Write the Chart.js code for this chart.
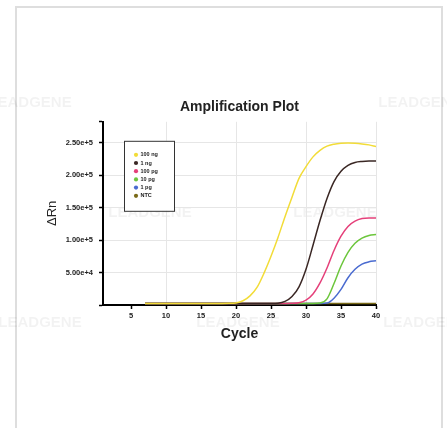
<!DOCTYPE html>
<html>
<head>
<meta charset="utf-8">
<script src="https://cdn.jsdelivr.net/npm/chart.js@4/dist/chart.umd.min.js"></script>
<style>
  html, body { margin: 0; padding: 0; background: #fff; }
  #frame { position: absolute; left: 15px; top: 6px; width: 428px; height: 430px; border: 2px solid #dedede; box-sizing: border-box; }
  #plot { position: absolute; left: 0; top: 0; }
</style>
</head>
<body>
<div id="frame"></div>
<canvas id="plot" width="447" height="428"></canvas>
<script>
// cycles 7..40 (curves start at cycle 7)
const cycles = [7, 8, 9, 10, 11, 12, 13, 14, 15, 16, 17, 18, 19, 20, 21, 22, 23, 24, 25, 26, 27, 28, 29, 30, 31, 32, 33, 34, 35, 36, 37, 38, 39, 40];

const ng100 = [2500, 2500, 2500, 2500, 2500, 2500, 2500, 2500, 2500, 2500, 2500, 2500, 2600, 3200, 6500, 14000, 27000, 49000, 75000, 104000, 136000, 166000, 195000, 213000, 228000, 238000, 244500, 247500, 249000, 249500, 249000, 248000, 246500, 244000];
const ng1 = [2500, 2500, 2500, 2500, 2500, 2500, 2500, 2500, 2500, 2500, 2500, 2500, 2500, 2500, 2500, 2500, 2500, 2500, 2500, 2800, 5500, 13000, 28000, 55000, 92000, 130000, 164000, 190000, 206000, 215000, 219500, 221000, 221500, 221500];
const pg100 = [2500, 2500, 2500, 2500, 2500, 2500, 2500, 2500, 2500, 2500, 2500, 2500, 2500, 2500, 2500, 2500, 2500, 2500, 2500, 2500, 2500, 2600, 3500, 7500, 17000, 34000, 57000, 84000, 106000, 121000, 129000, 133000, 134000, 134000];
const pg10 = [2500, 2500, 2500, 2500, 2500, 2500, 2500, 2500, 2500, 2500, 2500, 2500, 2500, 2500, 2500, 2500, 2500, 2500, 2500, 2500, 2500, 2500, 2500, 2500, 2500, 3000, 9500, 33000, 60000, 81000, 95000, 103000, 107000, 108500];
const pg1 = [2500, 2500, 2500, 2500, 2500, 2500, 2500, 2500, 2500, 2500, 2500, 2500, 2500, 2500, 2500, 2500, 2500, 2500, 2500, 2500, 2500, 2500, 2500, 2500, 2500, 2500, 3000, 10500, 24000, 42000, 55000, 63000, 66500, 68000];
const ntc = [2500, 2500, 2500, 2500, 2500, 2500, 2500, 2500, 2500, 2500, 2500, 2500, 2500, 2500, 2500, 2500, 2500, 2500, 2500, 2500, 2500, 2500, 2500, 2500, 2500, 2500, 2500, 2500, 2500, 2500, 2500, 2500, 2500, 2500];

const seriesNames = ['100 ng', '1 ng', '100 pg', '10 pg', '1 pg', 'NTC'];
const seriesColors = ['#f2dc38', '#3a2724', '#e5407a', '#6cc63c', '#4a6bd0', '#7a6a18'];
const yTicks = [50000, 100000, 150000, 200000, 250000];

const FONT = "'Liberation Sans', Arial, sans-serif";

const toPoints = vals => vals.map((v, i) => ({ x: cycles[i], y: v }));

const legendBox = {
  id: 'legendBox',
  afterDraw(chart) {
    const { ctx, chartArea } = chart;
    const x = chartArea.left + 21, y = chartArea.top + 19;
    ctx.save();
    ctx.fillStyle = '#fff';
    ctx.fillRect(x, y, 50, 70);
    ctx.strokeStyle = '#333';
    ctx.lineWidth = 1;
    ctx.strokeRect(x + 0.5, y + 0.5, 50, 70);
    ctx.font = `bold 5.5px ${FONT}`;
    ctx.textBaseline = 'middle';
    chart.data.datasets.forEach((ds, i) => {
      const cy = y + 14 + i * 8.2;
      ctx.fillStyle = ds.borderColor;
      ctx.beginPath();
      ctx.arc(x + 12, cy, 2.1, 0, Math.PI * 2);
      ctx.fill();
      ctx.fillStyle = '#222';
      ctx.fillText(ds.label, x + 16.5, cy);
    });
    ctx.restore();
  }
};

const watermark = {
  id: 'watermark',
  beforeDraw(chart) {
    const { ctx } = chart;
    const spots = [[30, 103], [420, 103], [150, 213], [335, 213], [40, 323], [238, 323], [425, 323]];
    ctx.save();
    ctx.font = `bold 15px ${FONT}`;
    ctx.fillStyle = 'rgba(0,0,0,0.05)';
    ctx.textAlign = 'center';
    ctx.textBaseline = 'middle';
    spots.forEach(([sx, sy]) => ctx.fillText('LEADGENE', sx, sy));
    ctx.restore();
  }
};

new Chart(document.getElementById('plot'), {
  type: 'line',
  data: {
    datasets: [ng100, ng1, pg100, pg10, pg1, ntc].map((vals, i) => ({
      label: seriesNames[i],
      data: toPoints(vals),
      borderColor: seriesColors[i],
      backgroundColor: seriesColors[i],
      borderWidth: 1.5,
      pointRadius: 0,
      cubicInterpolationMode: 'monotone',
      fill: false
    }))
  },
  options: {
    responsive: false,
    animation: false,
    layout: { padding: { left: 43, right: 71, top: 99, bottom: 83 } },
    plugins: {
      legend: { display: false },
      tooltip: { enabled: false },
      title: {
        display: true,
        text: 'Amplification Plot',
        fullSize: false,
        color: '#222',
        font: { family: FONT, size: 14, weight: 'bold' },
        padding: { top: 0, bottom: 6 }
      }
    },
    scales: {
      x: {
        type: 'linear',
        min: 1,
        max: 40,
        afterFit: s => { s.height = 40; },
        border: { color: '#000', width: 2 },
        grid: {
          color: c => (c.tick && c.tick.value % 10 === 0 ? '#e6e6e6' : 'transparent'),
          tickColor: c => (c.tick && c.tick.value % 5 === 0 ? '#000' : 'transparent'),
          tickLength: 4,
          tickWidth: 1.5
        },
        ticks: {
          stepSize: 5,
          maxRotation: 0,
          padding: 2,
          color: '#222',
          font: { family: FONT, size: 7.5, weight: 'bold' },
          callback: v => (v % 5 === 0 ? v : '')
        },
        title: {
          display: true,
          text: 'Cycle',
          color: '#222',
          font: { family: FONT, size: 14, weight: 'bold' },
          padding: { top: 2, bottom: 2 }
        }
      },
      y: {
        min: 0,
        max: 282000,
        afterFit: s => { s.width = 60; },
        afterBuildTicks: s => { s.ticks = [0, ...yTicks, 282000].map(v => ({ value: v })); },
        border: { color: '#000', width: 2 },
        grid: {
          color: c => (c.tick && yTicks.includes(c.tick.value) ? '#e6e6e6' : 'transparent'),
          tickColor: '#000',
          tickLength: 4,
          tickWidth: 1.5
        },
        ticks: {
          padding: 6,
          color: '#222',
          font: { family: FONT, size: 7.5, weight: 'bold' },
          callback: v => (yTicks.includes(v) ? Number(v).toExponential(2) : '')
        },
        title: {
          display: true,
          text: 'ΔRn',
          color: '#222',
          font: { family: FONT, size: 13 },
          padding: { top: 2, bottom: 2 }
        }
      }
    }
  },
  plugins: [watermark, legendBox]
});
</script>
</body>
</html>
